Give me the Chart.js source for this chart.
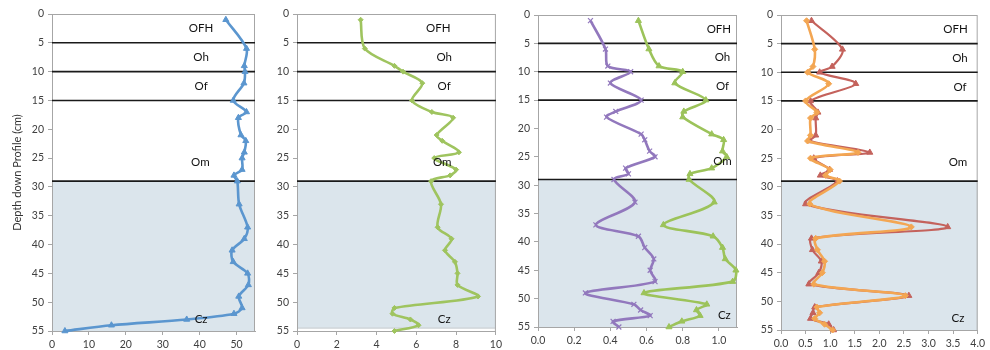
<!DOCTYPE html>
<html>
<head>
<meta charset="utf-8">
<script src="https://cdn.jsdelivr.net/npm/chart.js@4/dist/chart.umd.min.js"></script>
<style>
  html, body { margin: 0; padding: 0; background: #ffffff; }
  #wrap { position: relative; width: 990px; height: 350px; overflow: hidden; background: #fff; }
  #wrap canvas { position: absolute; top: 0; }
</style>
</head>
<body>
<div id="wrap">
  <canvas id="c1"></canvas>
  <canvas id="c2"></canvas>
  <canvas id="c3"></canvas>
  <canvas id="c4"></canvas>
</div>
<script>
// ---------- DATA ----------
const DEPTH = [1, 6, 9, 10, 12, 15, 17, 18, 21, 22, 24, 25, 27, 28, 29, 33, 37, 39, 41, 43, 45, 47, 49, 51, 52, 53, 54, 55];

const P1_BLUE   = [47.1, 52.7, 52.1, 52.3, 52.0, 49.1, 52.7, 50.5, 51.2, 52.5, 52.1, 51.5, 51.5, 49.3, 50.2, 50.7, 53.0, 52.1, 48.8, 49.1, 53.0, 53.2, 50.6, 51.5, 49.3, 36.5, 16.1, 3.5];
const P2_GREEN  = [3.2, 3.41, 4.9, 5.33, 6.3, 5.78, 6.78, 7.85, 7.02, 7.3, 8.14, 6.9, 8.0, 7.7, 6.74, 7.24, 7.07, 7.77, 7.44, 7.94, 8.07, 8.07, 9.1, 4.9, 4.8, 5.7, 6.11, 4.9];
const P3_PURPLE = [0.29, 0.373, 0.386, 0.512, 0.40, 0.57, 0.43, 0.379, 0.57, 0.59, 0.617, 0.647, 0.484, 0.50, 0.42, 0.536, 0.32, 0.555, 0.59, 0.64, 0.62, 0.647, 0.262, 0.53, 0.567, 0.62, 0.415, 0.447];
const P3_GREEN  = [0.555, 0.613, 0.669, 0.80, 0.756, 0.928, 0.806, 0.80, 0.96, 1.026, 1.02, 1.043, 0.96, 0.84, 0.835, 0.974, 0.693, 0.968, 1.02, 1.035, 1.094, 1.076, 0.586, 0.933, 0.876, 0.896, 0.795, 0.724];
const P4_RED    = [0.62, 1.25, 1.04, 0.786, 1.52, 0.6, 0.75, 0.706, 0.706, 0.59, 1.806, 0.666, 0.986, 0.8, 1.15, 0.5, 3.39, 0.62, 0.64, 0.82, 0.77, 0.566, 2.6, 0.686, 0.65, 0.6, 0.97, 1.07];
const P4_ORANGE = [0.52, 0.686, 0.65, 0.54, 0.97, 0.5, 0.73, 0.6, 0.6, 0.54, 1.566, 0.6, 1.0, 0.906, 1.19, 0.586, 2.65, 0.706, 0.74, 0.886, 0.84, 0.666, 2.53, 0.73, 0.786, 0.686, 0.886, 1.05];

const HORIZON_BOUNDS = [5, 10, 15, 29];
const SHADE_FROM = 29;
const SHADE_TO = [55, 54.4, 55, 55];
const HORIZON_LABELS = ['OFH', 'Oh', 'Of', 'Om', 'Cz'];
const HORIZON_LABEL_DEPTHS = [2.5, 7.5, 12.6, 25.8, 53];
const LABEL_X = [
  [40.4, 40.4, 40.4, 40.2, 40.4],
  [7.1, 7.4, 7.4, 7.3, 7.4],
  [1.0, 1.02, 1.02, 1.02, 1.03],
  [3.55, 3.64, 3.64, 3.6, 3.6]
];
const X_MAX = [55, 10, 1.1, 4];
const X_STEP = [10, 2, 0.2, 0.5];
const X_DECIMALS = [0, 0, 1, 1];
const Y_TITLE = 'Depth down Profile (cm)';

// ---------- LAYOUT ----------
const PANELS = [
  { id: 'c1', L: 52,  R: 255, T: 14, B: 331, yw: 52 },
  { id: 'c2', L: 297, R: 498, T: 14, B: 331, yw: 40 },
  { id: 'c3', L: 538, R: 737, T: 15, B: 327, yw: 40 },
  { id: 'c4', L: 781, R: 981, T: 15, B: 330, yw: 40 }
];
const PAD_R = 7;
const FONT = 'Lato, "Open Sans", "DejaVu Sans", sans-serif';

function pts(vals) { return vals.map((v, i) => ({ x: v, y: DEPTH[i] })); }

function ds(vals, color, style, radius, width, order) {
  return {
    data: pts(vals),
    showLine: true,
    order: order || 0,
    borderColor: color,
    backgroundColor: color,
    borderWidth: width || 2.6,
    pointStyle: style,
    pointRadius: radius,
    pointBorderWidth: style === 'crossRot' ? 1.2 : 1,
    pointBorderColor: color,
    pointBackgroundColor: color,
    tension: 0.3,
    clip: false
  };
}

const DATASETS = [
  [ds(P1_BLUE, '#5b96cf', 'triangle', 3.5)],
  [ds(P2_GREEN, '#9fc45f', 'rectRot', 2.5)],
  [ds(P3_PURPLE, '#9278bd', 'crossRot', 3.5), ds(P3_GREEN, '#9cc35a', 'triangle', 3.5)],
  [ds(P4_RED, '#c4625c', 'triangle', 3.5, 2.2, 2), ds(P4_ORANGE, '#f3a653', 'rectRot', 3, 2.6, 1)]
];

const horizonPlugin = {
  id: 'horizons',
  beforeDatasetsDraw(chart, args, opts) {
    const { ctx, chartArea: a, scales: { x, y } } = chart;
    ctx.save();
    const y0 = y.getPixelForValue(SHADE_FROM);
    const y1 = y.getPixelForValue(SHADE_TO[opts.idx]);
    ctx.fillStyle = '#dbe5ec';
    ctx.fillRect(a.left, y0, a.right - a.left, y1 - y0);
    if (SHADE_TO[opts.idx] < 55) {
      ctx.strokeStyle = '#b8c0c6';
      ctx.lineWidth = 1;
      ctx.beginPath(); ctx.moveTo(a.left, y1 + 0.5); ctx.lineTo(a.right, y1 + 0.5); ctx.stroke();
    }
    ctx.strokeStyle = '#a6a6a6';
    ctx.lineWidth = 1;
    ctx.strokeRect(a.left + 0.5, a.top + 0.5, a.right - a.left - 1, a.bottom - a.top);
    ctx.strokeStyle = '#1a1a1a';
    ctx.lineWidth = 1.6;
    HORIZON_BOUNDS.forEach(d => {
      const py = y.getPixelForValue(d);
      ctx.beginPath(); ctx.moveTo(a.left, py); ctx.lineTo(a.right, py); ctx.stroke();
    });
    ctx.restore();
  },
  afterDatasetsDraw(chart, args, opts) {
    const { ctx, scales: { x, y } } = chart;
    ctx.save();
    ctx.fillStyle = '#111111';
    ctx.font = '11.5px ' + FONT;
    ctx.textAlign = 'center';
    ctx.textBaseline = 'middle';
    HORIZON_LABELS.forEach((t, i) => {
      ctx.fillText(t, x.getPixelForValue(LABEL_X[opts.idx][i]), y.getPixelForValue(HORIZON_LABEL_DEPTHS[i]));
    });
    ctx.restore();
  }
};

PANELS.forEach((p, idx) => {
  const cv = document.getElementById(p.id);
  const w = p.R - p.L + p.yw + PAD_R;
  cv.style.left = (p.L - p.yw) + 'px';
  cv.style.width = w + 'px';
  cv.style.height = '350px';
  cv.width = w; cv.height = 350;

  new Chart(cv, {
    type: 'scatter',
    data: { datasets: DATASETS[idx] },
    plugins: [horizonPlugin],
    options: {
      responsive: false,
      animation: false,
      devicePixelRatio: 1,
      layout: { autoPadding: false, padding: { top: p.T, right: PAD_R, left: 0, bottom: 0 } },
      plugins: {
        legend: { display: false },
        tooltip: { enabled: false },
        horizons: { idx: idx }
      },
      scales: {
        x: {
          type: 'linear',
          min: 0,
          max: X_MAX[idx],
          afterFit: s => { s.height = 350 - p.B; },
          grid: { display: true, drawOnChartArea: false, drawTicks: true, tickLength: 4, color: '#a6a6a6' },
          border: { display: true, color: '#a6a6a6' },
          ticks: {
            stepSize: X_STEP[idx],
            includeBounds: false,
            maxRotation: 0,
            autoSkip: false,
            padding: 3,
            color: '#404040',
            font: { family: FONT, size: 10.5 },
            callback: v => Number(v).toFixed(X_DECIMALS[idx])
          }
        },
        y: {
          type: 'linear',
          reverse: true,
          min: 0,
          max: 55,
          afterFit: s => { s.width = p.yw; },
          grid: { display: true, drawOnChartArea: false, drawTicks: true, tickLength: 4, color: '#a6a6a6' },
          border: { display: true, color: '#a6a6a6' },
          ticks: {
            stepSize: 5,
            padding: 4,
            color: '#404040',
            font: { family: FONT, size: 10.5 }
          },
          title: idx === 0 ? {
            display: true,
            text: Y_TITLE,
            color: '#333333',
            font: { family: FONT, size: 11 },
            padding: { top: 11, bottom: 0 }
          } : { display: false }
        }
      }
    }
  });
});
</script>
</body>
</html>
